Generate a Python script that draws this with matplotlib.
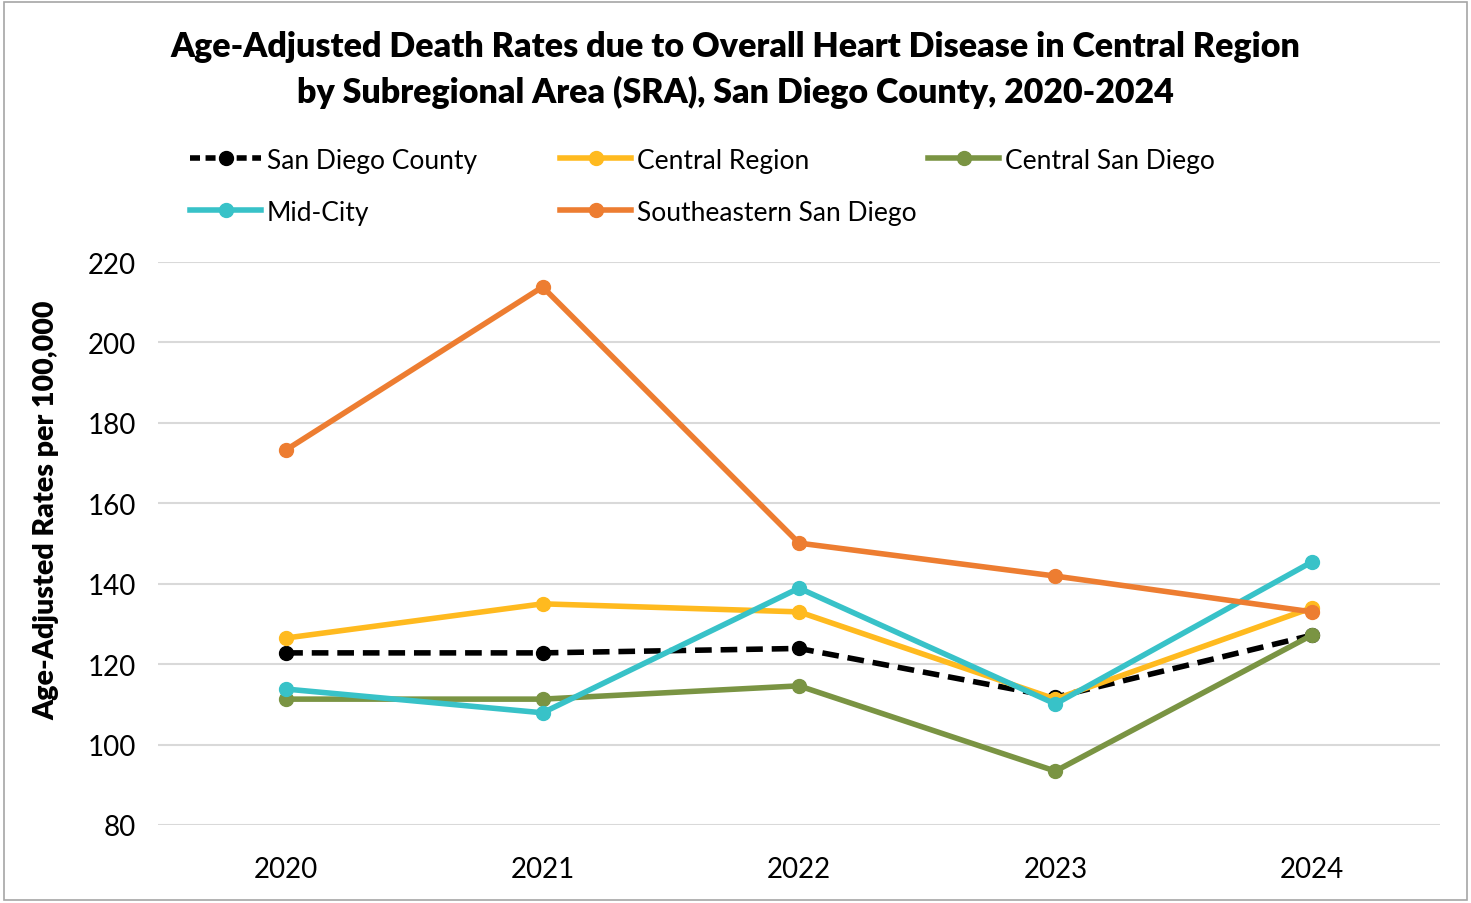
import matplotlib.pyplot as plt
from matplotlib.lines import Line2D
from matplotlib.patches import Rectangle

plt.rcParams['font.family'] = ['Lato', 'DejaVu Sans']

years = ['2020', '2021', '2022', '2023', '2024']
san_diego_county = [122.8, 122.8, 123.9, 111.8, 127.2]
central_region = [126.5, 135.0, 133.0, 111.3, 134.0]
central_san_diego = [111.3, 111.3, 114.6, 93.4, 127.2]
mid_city = [113.8, 107.9, 138.9, 110.1, 145.4]
southeastern = [173.3, 213.8, 150.1, 141.9, 133.0]

series = [
    ('San Diego County', san_diego_county, '#000000', '--'),
    ('Central Region', central_region, '#FFBA1F', '-'),
    ('Central San Diego', central_san_diego, '#7A9443', '-'),
    ('Mid-City', mid_city, '#38C2C8', '-'),
    ('Southeastern San Diego', southeastern, '#ED7D31', '-'),
]

fig = plt.figure(figsize=(14.71, 9.04), dpi=100)
ax = fig.add_axes([158 / 1471, 1 - 826 / 904, (1440 - 158) / 1471, (826 - 263) / 904])

x = range(len(years))
for name, vals, color, ls in series:
    ax.plot(x, vals, color=color, linestyle=ls, linewidth=4, marker='o',
            markersize=10, label=name, dashes=(3, 1.6) if ls == '--' else (None, None))

ax.set_xlim(-0.5, 4.5)
ax.set_ylim(80, 220)
ax.set_yticks(range(80, 221, 20))
ax.set_xticks(list(x))
ax.set_xticklabels(years)
ax.grid(axis='y', color='#D9D9D9', linewidth=1.5)
ax.set_axisbelow(True)
for s in ax.spines.values():
    s.set_visible(False)
ax.tick_params(length=0, labelsize=20, pad=16)
ax.tick_params(axis='x', pad=22)
ax.set_ylabel('Age-Adjusted Rates per 100,000', fontsize=20.5, fontweight='heavy', labelpad=20)
ax.yaxis.set_label_coords(-0.077, 0.561)

fig.text(0.5, 1 - 47 / 904, 'Age-Adjusted Death Rates due to Overall Heart Disease in Central Region',
         ha='center', va='center', fontsize=24.5, fontweight='heavy')
fig.text(0.5, 1 - 92 / 904, 'by Subregional Area (SRA), San Diego County, 2020-2024',
         ha='center', va='center', fontsize=24.5, fontweight='heavy')

# legend entries laid out on a fixed grid (equal column widths, row by row)
col_x = [190, 560, 928]
row_y = [161, 213]
for i, (name, vals, color, ls) in enumerate(series):
    h = Line2D([], [], color=color, linewidth=4, marker='o', markersize=10,
               linestyle=ls)
    if ls == '--':
        h.set_dashes((1.8, 1.0))
    px, py = col_x[i % 3], row_y[i // 3]
    fig.legend([h], [name], loc='center left',
               bbox_to_anchor=(px / 1471, 1 - py / 904), frameon=False,
               fontsize=19, handlelength=2.7, handletextpad=0.2,
               borderpad=0, borderaxespad=0)

fig.patches.append(Rectangle((0.003, 0.003), 0.994, 0.994, transform=fig.transFigure,
                             fill=False, edgecolor='#A6A6A6', linewidth=1.2))

fig.savefig('out.png', dpi=100)
